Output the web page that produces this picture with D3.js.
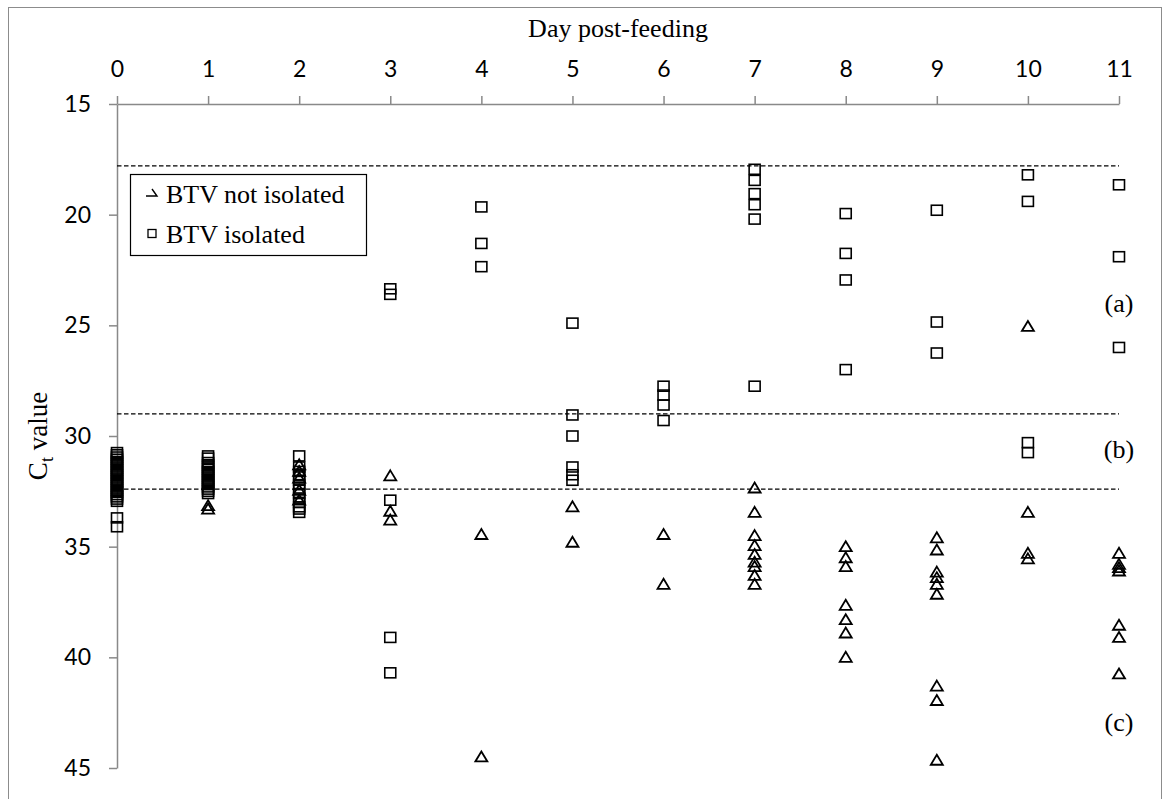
<!DOCTYPE html>
<html lang="en">
<head>
<meta charset="UTF-8">
<title>Ct value by day post-feeding</title>
<script src="https://d3js.org/d3.v7.min.js"></script>
<style>
    body { margin: 0; background: #fff; }
    svg { display: block; }
    .axis path, .axis line { stroke: #898989; stroke-width: 1.5px; }
    .axis text { font-family: Lato, "Open Sans", sans-serif; font-size: 23px; fill: #000; }
    .serif { font-family: "Liberation Serif", "Times New Roman", serif; fill: #000; }
</style>
</head>
<body>
<svg id="chart" width="1164" height="799"></svg>
<script>
// Day post-feeding (x) and Ct values per day (index = day)
const days = [0, 1, 2, 3, 4, 5, 6, 7, 8, 9, 10, 11];
const yTicks = [15, 20, 25, 30, 35, 40, 45];

// BTV not isolated (triangles)
const notIsolatedByDay = [
    [],
    [33.15, 33.3],
    [31.3, 31.6, 31.9, 32.45, 32.9],
    [31.8, 33.4, 33.8],
    [34.45, 44.5],
    [33.2, 34.8],
    [34.45, 36.7],
    [32.35, 33.45, 34.5, 34.95, 35.35, 35.7, 35.9, 36.3, 36.7],
    [35.0, 35.5, 35.9, 37.65, 38.3, 38.9, 40.0],
    [34.6, 35.15, 36.15, 36.4, 36.7, 37.15, 41.3, 41.95, 44.65],
    [25.05, 33.45, 35.3, 35.55],
    [35.3, 35.8, 35.95, 36.1, 38.55, 39.1, 40.75]
];

// BTV isolated (squares)
const isolatedByDay = [
    [30.75, 30.85, 30.95, 31.05, 31.15, 31.25, 31.35, 31.45, 31.55, 31.65, 31.75, 31.85,
     31.95, 32.05, 32.15, 32.25, 32.35, 32.45, 32.55, 32.65, 32.75, 32.85, 32.95, 33.7, 34.1],
    [30.9, 31.0, 31.2, 31.3, 31.4, 31.5, 31.6, 31.7, 31.8, 31.9, 32.0, 32.1, 32.2, 32.3, 32.4, 32.5, 32.6],
    [30.9, 31.4, 31.6, 31.8, 32.0, 32.2, 32.4, 32.6, 32.8, 33.0, 33.2, 33.3, 33.45],
    [23.35, 23.6, 32.9, 39.1, 40.7],
    [19.65, 21.3, 22.35],
    [24.9, 29.05, 30.0, 31.4, 31.75, 32.0],
    [27.75, 28.15, 28.6, 29.3],
    [17.95, 18.45, 19.05, 19.55, 20.2, 27.75],
    [19.95, 21.75, 22.95, 27.0],
    [19.8, 24.85, 26.25],
    [18.2, 19.4, 30.3, 30.75],
    [18.65, 21.9, 26.0]
];

// Threshold lines and their zone labels
const thresholds = [17.8, 29.0, 32.4];
const zoneLabels = ["(a)", "(b)", "(c)"];
const zoneLabelCt = [24.1, 30.7, 43.0];

const svg = d3.select("#chart");

// outer frame
svg.append("rect")
    .attr("x", 8.5).attr("y", 7.5)
    .attr("width", 1153).attr("height", 820)
    .attr("fill", "none").attr("stroke", "#8c8c8c").attr("stroke-width", 1);

const x = d3.scaleLinear().domain([0, 11]).range([117, 1119]);
const y = d3.scaleLinear().domain([15, 45]).range([104, 768]);

// axes
svg.append("g")
    .attr("class", "axis")
    .attr("transform", "translate(0,104)")
    .call(d3.axisTop(x).tickValues(days).tickSize(8).tickSizeOuter(0).tickPadding(19));

svg.append("g")
    .attr("class", "axis")
    .attr("transform", "translate(117,0)")
    .call(d3.axisLeft(y).tickValues(yTicks).tickSize(8).tickSizeOuter(0).tickPadding(18));

// axis titles
svg.append("text")
    .attr("class", "serif")
    .attr("x", 618).attr("y", 37)
    .attr("text-anchor", "middle")
    .attr("font-size", 26)
    .text("Day post-feeding");

const yTitle = svg.append("text")
    .attr("class", "serif")
    .attr("transform", "translate(47,436) rotate(-90)")
    .attr("text-anchor", "middle")
    .attr("font-size", 27);
yTitle.append("tspan").text("C");
yTitle.append("tspan").attr("font-size", 18).attr("dy", 6).text("t");
yTitle.append("tspan").attr("dy", -6).text(" value");

// dashed threshold lines
svg.append("g").selectAll("line")
    .data(thresholds)
    .join("line")
    .attr("x1", x(0)).attr("x2", x(11))
    .attr("y1", d => y(d)).attr("y2", d => y(d))
    .attr("stroke", "#000")
    .attr("stroke-width", 1.3)
    .attr("stroke-dasharray", "4.5,2.5");

// flatten per-day arrays into points
const toPoints = arr => arr.flatMap((vals, day) => vals.map(v => ({ day, v })));
const triPts = toPoints(notIsolatedByDay);
const sqPts = toPoints(isolatedByDay);

const triPath = "M0,-5.5L6,4.5L-6,4.5Z";

svg.append("g").selectAll("path")
    .data(triPts)
    .join("path")
    .attr("d", triPath)
    .attr("transform", d => `translate(${x(d.day)},${y(d.v)})`)
    .attr("fill", "none")
    .attr("stroke", "#000")
    .attr("stroke-width", 1.8);

svg.append("g").selectAll("rect")
    .data(sqPts)
    .join("rect")
    .attr("x", d => x(d.day) - 5.5)
    .attr("y", d => y(d.v) - 5)
    .attr("width", 11)
    .attr("height", 10)
    .attr("fill", "none")
    .attr("stroke", "#000")
    .attr("stroke-width", 1.6);

// zone labels on the right
svg.append("g").selectAll("text")
    .data(zoneLabels)
    .join("text")
    .attr("class", "serif")
    .attr("x", 1119)
    .attr("y", (d, i) => y(zoneLabelCt[i]) + 7)
    .attr("text-anchor", "middle")
    .attr("font-size", 26)
    .text(d => d);

// legend
const legend = svg.append("g");
legend.append("rect")
    .attr("x", 130.5).attr("y", 174.5)
    .attr("width", 236).attr("height", 81)
    .attr("fill", "#fff").attr("stroke", "#000").attr("stroke-width", 1.2);

legend.append("path")
    .attr("d", "M146,196L157,196L152,189")
    .attr("fill", "none").attr("stroke", "#000").attr("stroke-width", 1.4);
legend.append("rect")
    .attr("x", 148).attr("y", 229.5).attr("width", 8).attr("height", 8)
    .attr("fill", "none").attr("stroke", "#000").attr("stroke-width", 1.3);

legend.append("text")
    .attr("class", "serif")
    .attr("x", 166).attr("y", 203)
    .attr("font-size", 26)
    .text("BTV not isolated");
legend.append("text")
    .attr("class", "serif")
    .attr("x", 166).attr("y", 243)
    .attr("font-size", 26)
    .text("BTV isolated");
</script>
</body>
</html>
